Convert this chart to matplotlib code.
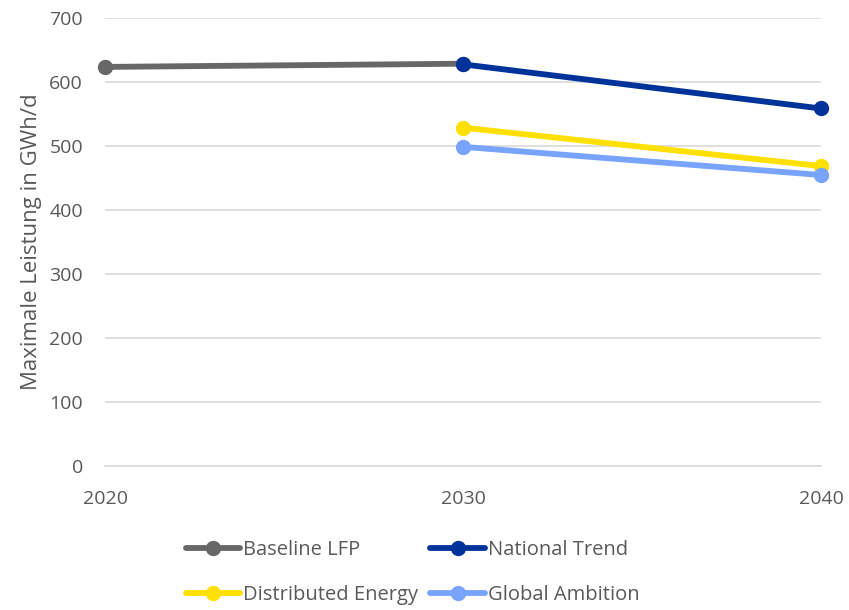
import matplotlib.pyplot as plt
import numpy as np

plt.rcParams['font.family'] = ['Open Sans', 'DejaVu Sans']

years = ['2020', '2030', '2040']
baseline_lfp = [624, 629, np.nan]
national_trend = [np.nan, 628, 559]
distributed_energy = [np.nan, 529, 469]
global_ambition = [np.nan, 499, 455]

series = [
    ('Baseline LFP', baseline_lfp, '#676767'),
    ('National Trend', national_trend, '#003399'),
    ('Distributed Energy', distributed_energy, '#FFE000'),
    ('Global Ambition', global_ambition, '#78A3FF'),
]

text_color = '#595959'

fig = plt.figure(figsize=(8.49, 6.10), dpi=100)
ax = fig.add_axes([0.124, 0.236, 0.843, 0.734])

x = np.arange(len(years))
lines = []
for name, values, color in series:
    ln, = ax.plot(x, values, color=color, linewidth=4.2, marker='o',
                  markersize=10, label=name, solid_capstyle='round',
                  clip_on=False)
    lines.append(ln)

ax.set_xlim(0, 2)
ax.set_ylim(0, 700)
ax.set_xticks(x)
ax.set_xticklabels(years)
ax.set_yticks(range(0, 701, 100))
ax.yaxis.grid(True, color='#d9d9d9', linewidth=1.2)
ax.set_axisbelow(True)

for side in ['top', 'right', 'left']:
    ax.spines[side].set_visible(False)
ax.spines['bottom'].set_color('#d9d9d9')
ax.spines['bottom'].set_linewidth(1.2)

ax.tick_params(axis='both', length=0, labelsize=14, colors=text_color)
ax.tick_params(axis='x', pad=17)
ax.tick_params(axis='y', pad=16)
ax.set_ylabel('Maximale Leistung in GWh/d', fontsize=16, color=text_color,
              labelpad=5)

# legend is filled row by row: two entries per row
order = [0, 2, 1, 3]
leg = fig.legend([lines[i] for i in order], [series[i][0] for i in order],
                 loc='lower center', bbox_to_anchor=(0.486, -0.022), ncol=2,
                 frameon=False, fontsize=14.5, handlelength=2.7,
                 handletextpad=0.15, columnspacing=0.6, labelspacing=1.25)
for t in leg.get_texts():
    t.set_color(text_color)

fig.savefig('out.png', dpi=100)
